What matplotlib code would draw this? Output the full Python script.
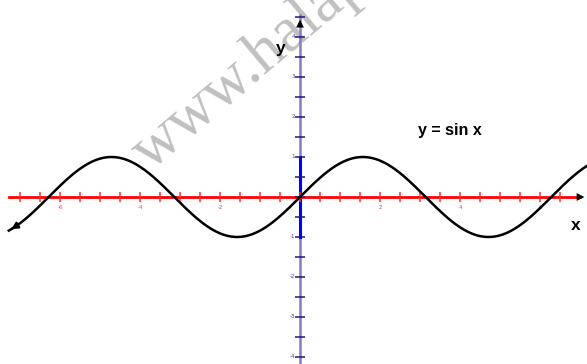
import numpy as np
import matplotlib
matplotlib.use("Agg")
import matplotlib.pyplot as plt

# x tick labels / y tick labels
x_labels = [-6, -4, -2, 2, 4, 6]
y_labels = [-4, -3, -2, -1, 1, 2, 3, 4]
x_minor = np.arange(-7, 7, 0.5)
y_minor = np.arange(-4, 5, 0.5)

x_start, x_end = -7.28, 7.4

fig = plt.figure(figsize=(5.87, 3.64), dpi=100)
ax = fig.add_axes([0, 0, 1, 1])
ax.set_xlim(-7.5, 7.175)
ax.set_ylim(-4.175, 4.925)
ax.axis("off")

# watermark (runs off the top edge)
ax.text(-3.75, 0.65, "www.halapezeshki.com", family="Liberation Serif", fontsize=46,
        color="#c0c0c0", rotation=40, rotation_mode="anchor", ha="left", va="baseline",
        zorder=0, clip_on=True)

# y axis: pale outside [-1, 1], bright inside
ax.plot([0, 0], [-4.3, 4.55], color="#7d7dc0", lw=1.8, zorder=2)
ax.plot([0, 0], [-1, 1], color="#0000ff", lw=2.2, zorder=3)
ax.plot(np.zeros_like(y_minor), y_minor, ls="none", marker="_", ms=7, mew=1.1,
        color="#1a1a80", zorder=4)
for v in y_labels:
    ax.text(-0.13, v, str(v), fontsize=4, color="#4040a0", ha="right", va="center")

# x axis
ax.plot([-7.28, 7.0], [0, 0], color="#ff0000", lw=2, zorder=3)
ax.plot(x_minor, np.zeros_like(x_minor), ls="none", marker="|", ms=7, mew=1.1,
        color="#ff3030", zorder=4)
for v in x_labels:
    ax.text(v, -0.2, str(v), fontsize=4, color="#ff4040", ha="center", va="top")

# arrow heads on the axes
ax.annotate("", xy=(7.18, 0), xytext=(6.9, 0),
            arrowprops=dict(arrowstyle="-|>", color="black", lw=0, mutation_scale=14), zorder=5)
ax.annotate("", xy=(0, 4.5), xytext=(0, 4.2),
            arrowprops=dict(arrowstyle="-|>", color="black", lw=0, mutation_scale=14), zorder=5)

# sine curve
x = np.linspace(x_start, x_end, 800)
ax.plot(x, np.sin(x), color="black", lw=1.8, zorder=6)
ax.annotate("", xy=(x_start, np.sin(x_start)), xytext=(x_start + 0.15, np.sin(x_start + 0.15)),
            arrowprops=dict(arrowstyle="-|>", color="black", lw=1.5, mutation_scale=10), zorder=6)

bold = dict(family="Liberation Sans", fontweight="bold", color="black")
ax.text(2.95, 1.67, "y = sin x", fontsize=11.5, ha="left", va="center", **bold)
ax.text(6.9, -0.72, "x", fontsize=12.5, ha="center", va="center", **bold)
ax.text(-0.48, 3.7, "y", fontsize=12.5, ha="center", va="center", **bold)

fig.savefig("out.png", dpi=100)
